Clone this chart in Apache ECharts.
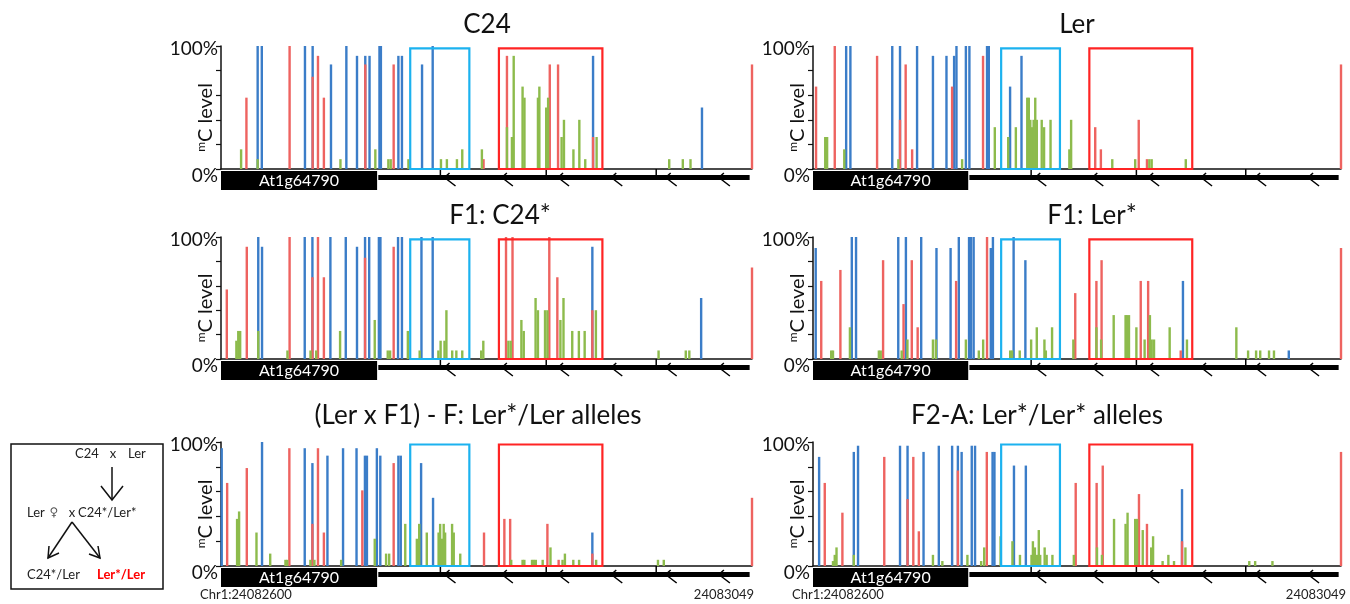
<!DOCTYPE html>
<html><head><meta charset="utf-8">
<script src="https://cdn.jsdelivr.net/npm/echarts@6/dist/echarts.min.js"></script>
<style>html,body{margin:0;padding:0;background:#fff}#c{width:1350px;height:604px}</style>
</head><body><div id="c"></div>
<script>
// ---- positions are bp offsets from Chr1:24082600 ----
const xMin = 0, xMax = 449;
const chrStartLabel = 'Chr1:24082600', chrEndLabel = '24083049';
const geneName = 'At1g64790';
const geneBox = [0, 132];
const geneLine = [133, 447];
const geneTicks = [185.5, 275, 368];
const geneArrows = [189, 237.5, 285, 330, 376, 421];
const cyanBox = [160, 210];
const redBox = [235, 322.5];
const boxTop = 98;
const titles = ['C24', 'Ler', 'F1: C24*', 'F1: Ler*', '(Ler x F1) - F: Ler*/Ler alleles', 'F2-A: Ler*/Ler* alleles'];
const yLabel100 = '100%', yLabel0 = '0%';

// C24
const c24_CHG = [[31,100],[34.5,100],[71,100],[77.5,100],[93,85],[106,100],[115,92],[122,92],[125.6,92],[134,100],[135.2,100],[150,92],[153,92],[170,85],[179,100],[314.6,92],[406.7,50]];
const c24_CG = [[21.5,58],[58,100],[77.5,75],[82,92],[87,58],[122,85],[146,85],[222,8],[241.8,92],[278,85],[285,85],[314.6,26],[449,85]];
const c24_CHH = [[17,16],[31,8],[101,8],[130.5,16],[141.5,8],[143.5,8],[158.5,8],[186,8],[191,8],[199.5,8],[204,16],[220.6,16],[241.8,34],[246,26],[247.5,92],[255,67],[256.6,58],[268,58],[269.2,67],[275,50],[276.6,58],[288,26],[290,40],[298,16],[303,40],[308,8],[317.6,26],[379,8],[390.5,8],[397,8]];
// Ler
const ler_CHG = [[28.2,100],[31.8,100],[67.4,100],[74,100],[88.5,100],[102,92],[113.5,92],[120,92],[122,100],[130,100],[133,100],[148,100],[149.5,100],[167.6,67],[177.3,92]];
const ler_CG = [[2.6,67],[18.5,100],[54.5,92],[74,40],[78.8,85],[84.3,16],[118.3,67],[144.6,92],[240,34],[244.8,16],[277,40],[284,8],[449,85]];
const ler_CHH = [[10.4,26],[12,26],[26.6,16],[72.6,8],[126.8,8],[154.6,34],[166,26],[172.5,34],[182.2,58],[183.5,58],[184.8,40],[186.4,34],[187.6,40],[189,58],[190.3,40],[194.5,40],[196.5,34],[202,40],[218,16],[219.5,40],[254.5,8],[274,8],[286,8],[288,8],[317,8]];
// F1: C24*
const f1c_CHG = [[31.5,100],[34.7,92],[70.8,100],[77.3,100],[92.5,100],[105.5,100],[115,92],[121.8,100],[125.3,100],[133.5,100],[134.8,100],[149.7,100],[153,100],[169.5,100],[179,100],[314,92],[406,50]];
const f1c_CG = [[4.9,57],[21.8,92],[58,100],[77.3,67],[82,100],[87,67],[121.8,83],[146,92],[241,100],[246.5,100],[277.6,100],[284.4,67],[314,40],[449,75]];
const f1c_CHH = [[13,15],[14.6,23],[16.2,23],[31.5,23],[56.2,7],[75.7,7],[80.5,7],[100.7,23],[130,32],[141,7],[143,7],[158,23],[168,7],[183.8,7],[185.7,15],[189,15],[190.6,40],[195.5,7],[199,7],[204,7],[220,7],[221.8,15],[243,15],[245,15],[254,32],[256,23],[266,50],[268,40],[274,40],[276,40],[287,32],[289.6,50],[297,23],[302.6,23],[307.5,23],[317,40],[370,7],[393,7],[396,7]];
// F1: Ler*
const f1l_CHG = [[2.3,91],[33,100],[36.6,100],[72.5,100],[79,100],[92,100],[105,91],[117,91],[124,100],[132.7,100],[134.3,100],[136.6,100],[151.2,91],[153,100],[170.6,100],[180.6,81],[314.6,64],[404.6,7]];
const f1l_CG = [[7,64],[23.3,73],[59.6,81],[77,45],[84,81],[89,26],[121.7,64],[148,100],[223,54],[241,64],[245.4,81],[278.7,64],[285,64],[312.7,7],[449,91]];
const f1l_CHH = [[15.5,7],[17,7],[31.4,26],[56,7],[57.6,7],[75.4,7],[80.3,16],[102,16],[104.5,16],[130,16],[141,7],[144.7,16],[167.7,7],[169.3,7],[175.8,7],[185.5,16],[190.3,26],[196.8,16],[198,7],[203.3,26],[221.4,16],[241,26],[245,16],[255.7,36],[265.8,36],[267,36],[268.7,36],[275,26],[282,16],[286.5,36],[288,16],[290,16],[303.3,26],[318,16],[360,26],[370,7],[376.8,7],[380.3,7],[387.8,7],[392,7]];
// (Ler x F1) - F
const lf_CHG = [[0.6,95],[34.7,100],[70.8,95],[77.3,83],[90,89],[103.2,95],[114.6,95],[121.7,89],[123.4,89],[131.8,95],[134.7,89],[150,89],[152,89],[169.2,83],[179.3,55],[314,27]];
const lf_CG = [[5.2,67],[21.8,79],[57.8,95],[77.3,34],[82,95],[87,27],[119.5,61],[146,83],[222.4,27],[239.6,38],[244.5,38],[276,34],[285.5,5],[314,10],[449,55]];
const lf_CHH = [[13.6,38],[15.3,44],[30,27],[41.6,10],[54.5,5],[56,5],[75.6,5],[79,5],[101.6,5],[130,22],[139.6,10],[142.2,10],[155.8,34],[165.6,22],[167.6,34],[174,27],[184,27],[185.3,34],[186.7,22],[188.3,34],[189.5,27],[195.4,34],[196.8,27],[202.3,10],[245.4,5],[255,5],[256.5,5],[263,5],[264.6,5],[266.2,5],[272,5],[278.6,15],[288.8,5],[290.8,10],[297.9,5],[302.8,5],[317.2,5],[369.5,5],[374.4,5]];
// F2-A
const f2_CHG = [[5.2,88],[34.7,92],[38.3,97],[74,97],[80.4,97],[94,92],[107,97],[118.3,97],[123.2,97],[126.4,92],[135,97],[137.8,97],[152.7,92],[154.3,92],[170.9,81],[181,81],[313.8,62]];
const f2_CG = [[10,67],[25,43],[60.6,88],[80.4,54],[85.3,88],[90,28],[123.2,77],[147.8,92],[223.4,67],[241.2,67],[246.4,81],[277.2,58],[284,34],[313.8,20],[449,92]];
const f2_CHH = [[17,4],[18.5,9],[20,15],[34.7,9],[102,9],[110,4],[131.3,9],[143,4],[145.6,15],[159.5,24],[169.6,20],[176,9],[185.8,9],[187,20],[188.7,15],[190.3,9],[192,29],[193.2,9],[197,15],[198.7,9],[203.6,9],[221.8,9],[241.5,15],[245.7,9],[256,38],[265.8,34],[267.5,43],[274,38],[275.6,38],[280.4,29],[287.6,15],[289.2,24],[297.3,4],[302.2,9],[307,4],[316.7,15],[371,4],[376,4],[390.7,4]];

const panels = [
  [c24_CG, c24_CHG, c24_CHH],
  [ler_CG, ler_CHG, ler_CHH],
  [f1c_CG, f1c_CHG, f1c_CHH],
  [f1l_CG, f1l_CHG, f1l_CHH],
  [lf_CG, lf_CHG, lf_CHH],
  [f2_CG, f2_CHG, f2_CHH]
];

const COL = {cg:'#ee6360', chg:'#3b7dc8', chh:'#8dbb4c', cyan:'#1cb2ef', red:'#ff2424'};
const FONT = 'Lato, "Liberation Sans", sans-serif';

const gridPos = [
  {left:221, top:46, width:531, height:123},
  {left:813, top:46, width:528, height:123},
  {left:221, top:237, width:531, height:122},
  {left:813, top:237, width:528, height:122},
  {left:221, top:442, width:531, height:124},
  {left:813, top:442, width:528, height:124}
];
const titlePos = [[487,25],[1077,25],[500,216],[1092,216],[478,416],[1037,416]];

function barRender(color){
  return function(params, api){
    const x = api.value(0), y = api.value(1);
    const p0 = api.coord([x, 0]), p1 = api.coord([x, y]);
    return {type:'rect', shape:{x:p0[0]-1.2, y:p1[1], width:2.4, height:p0[1]-p1[1]}, style:{fill:color}};
  };
}

function annotRender(params, api){
  const c = (x, y) => api.coord([x, y]);
  const kids = [];
  const base = c(0, 0)[1];
  // gene model
  const g0 = c(geneBox[0], 0), g1 = c(geneBox[1], 0);
  kids.push({type:'rect', shape:{x:g0[0], y:base+2, width:g1[0]-g0[0], height:19}, style:{fill:'#000'}});
  kids.push({type:'text', x:(g0[0]+g1[0])/2, y:base+12, style:{text:geneName, fill:'#fff', font:'16px ' + FONT, align:'center', verticalAlign:'middle'}});
  const l0 = c(geneLine[0], 0), l1 = c(geneLine[1], 0);
  kids.push({type:'rect', shape:{x:l0[0], y:base+6, width:l1[0]-l0[0], height:5}, style:{fill:'#000'}});
  geneTicks.forEach(t => {
    const p = c(t, 0);
    kids.push({type:'line', shape:{x1:p[0], y1:base, x2:p[0], y2:base+7}, style:{stroke:'#000', lineWidth:1.5}});
  });
  geneArrows.forEach(t => {
    const p = c(t, 0);
    kids.push({type:'polyline', shape:{points:[[p[0]+5, base+4], [p[0], base+8.5], [p[0]+11, base+17]]}, style:{stroke:'#000', lineWidth:1.5, fill:null}});
  });
  // highlighted regions
  [[cyanBox, COL.cyan], [redBox, COL.red]].forEach(([b, col]) => {
    const a = c(b[0], 0), d = c(b[1], boxTop);
    kids.push({type:'rect', shape:{x:a[0], y:d[1], width:d[0]-a[0], height:a[1]-d[1]}, style:{fill:null, stroke:col, lineWidth:2.2}});
  });
  return {type:'group', children:kids};
}

const option = {animation:false, backgroundColor:'#fff', grid:[], xAxis:[], yAxis:[], series:[], graphic:[]};

panels.forEach((pd, i) => {
  option.grid.push(Object.assign({containLabel:false}, gridPos[i]));
  option.xAxis.push({gridIndex:i, type:'value', min:xMin, max:xMax,
    axisLine:{show:true, onZero:true, lineStyle:{color:'#111', width:1.5}},
    axisTick:{show:false}, axisLabel:{show:false}, splitLine:{show:false}});
  option.yAxis.push({gridIndex:i, type:'value', min:0, max:100, interval:20,
    axisLine:{show:true, lineStyle:{color:'#111', width:1.5}},
    axisTick:{show:true, length:5, lineStyle:{color:'#111', width:1.2}},
    splitLine:{show:false},
    axisLabel:{margin:3, color:'#111', fontFamily:FONT,
      formatter: v => v === 100 ? '{a|' + yLabel100 + '}' : (v === 0 ? '{b|' + yLabel0 + '}' : ''),
      rich:{a:{fontSize:19, fontFamily:FONT, color:'#111', padding:[6,0,0,0]}, b:{fontSize:19, fontFamily:FONT, color:'#111', padding:[14,0,0,0]}}},
    name:'{s|m}{n|C level}', nameLocation:'middle', nameRotate:90, nameGap:4, nameMoveOverlap:false,
    nameTextStyle:{color:'#111', fontFamily:FONT, padding:[0,20,0,0],
      rich:{s:{fontSize:12, fontFamily:FONT, color:'#111', verticalAlign:'top', lineHeight:22}, n:{fontSize:20, fontFamily:FONT, color:'#111', lineHeight:22}}}
  });
  const layers = [[pd[1], COL.chg], [pd[0], COL.cg], [pd[2], COL.chh]];
  layers.forEach(([d, col]) => option.series.push({type:'custom', xAxisIndex:i, yAxisIndex:i, data:d, renderItem:barRender(col), clip:false, silent:true}));
  option.series.push({type:'custom', xAxisIndex:i, yAxisIndex:i, data:[[0,0]], renderItem:annotRender, clip:false, silent:true, z:3});
  option.graphic.push({type:'text', x:titlePos[i][0], y:titlePos[i][1],
    style:{text:titles[i], font:'26px ' + FONT, fill:'#111', align:'center', verticalAlign:'middle', textAlign:'center', textVerticalAlign:'middle'}});
});

// coordinate labels under the bottom panels
[[246,595,chrStartLabel],[724,595,chrEndLabel],[838,595,chrStartLabel],[1316,595,chrEndLabel]].forEach(([x,y,t]) => {
  option.graphic.push({type:'text', x, y, style:{text:t, font:'13px ' + FONT, fill:'#222', align:'center', verticalAlign:'middle', textAlign:'center', textVerticalAlign:'middle'}});
});

// crossing scheme inset
const inset = [
  {type:'rect', shape:{x:11, y:444, width:152, height:145}, style:{fill:'#fff', stroke:'#111', lineWidth:1.5}},
  {type:'text', x:75, y:454, style:{text:'C24', font:'13px ' + FONT, fill:'#222', verticalAlign:'middle', textVerticalAlign:'middle'}},
  {type:'text', x:113, y:454, style:{text:'x', font:'13px ' + FONT, fill:'#222', align:'center', textAlign:'center', verticalAlign:'middle', textVerticalAlign:'middle'}},
  {type:'text', x:128, y:454, style:{text:'Ler', font:'13px ' + FONT, fill:'#222', verticalAlign:'middle', textVerticalAlign:'middle'}},
  {type:'polyline', shape:{points:[[112,467],[112,500]]}, style:{stroke:'#111', lineWidth:1.5, fill:null}},
  {type:'polyline', shape:{points:[[101,486],[112,500],[123,486]]}, style:{stroke:'#111', lineWidth:1.5, fill:null}},
  {type:'text', x:27, y:513, style:{text:'Ler', font:'13px ' + FONT, fill:'#222', verticalAlign:'middle', textVerticalAlign:'middle'}},
  {type:'text', x:54, y:513, style:{text:'\u2640', font:'12px "DejaVu Sans"', fill:'#555', align:'center', textAlign:'center', verticalAlign:'middle', textVerticalAlign:'middle'}},
  {type:'text', x:72, y:513, style:{text:'x', font:'13px ' + FONT, fill:'#222', align:'center', textAlign:'center', verticalAlign:'middle', textVerticalAlign:'middle'}},
  {type:'text', x:78, y:513, style:{text:'C24*/Ler*', font:'13px ' + FONT, fill:'#222', verticalAlign:'middle', textVerticalAlign:'middle'}},
  {type:'polyline', shape:{points:[[72,522],[48,558]]}, style:{stroke:'#111', lineWidth:1.5, fill:null}},
  {type:'polyline', shape:{points:[[49,546],[48,558],[59,553]]}, style:{stroke:'#111', lineWidth:1.5, fill:null}},
  {type:'polyline', shape:{points:[[72,522],[100,558]]}, style:{stroke:'#111', lineWidth:1.5, fill:null}},
  {type:'polyline', shape:{points:[[98,546],[100,558],[89,554]]}, style:{stroke:'#111', lineWidth:1.5, fill:null}},
  {type:'text', x:27, y:575, style:{text:'C24*/Ler', font:'13px ' + FONT, fill:'#222', verticalAlign:'middle', textVerticalAlign:'middle'}},
  {type:'text', x:97, y:575, style:{text:'Ler*/Ler', font:'bold 13px ' + FONT, fill:'#ff0000', verticalAlign:'middle', textVerticalAlign:'middle'}}
];
option.graphic.push({type:'group', children:inset});

const chart = echarts.init(document.getElementById('c'), null, {renderer:'canvas'});
chart.setOption(option);
</script></body></html>
